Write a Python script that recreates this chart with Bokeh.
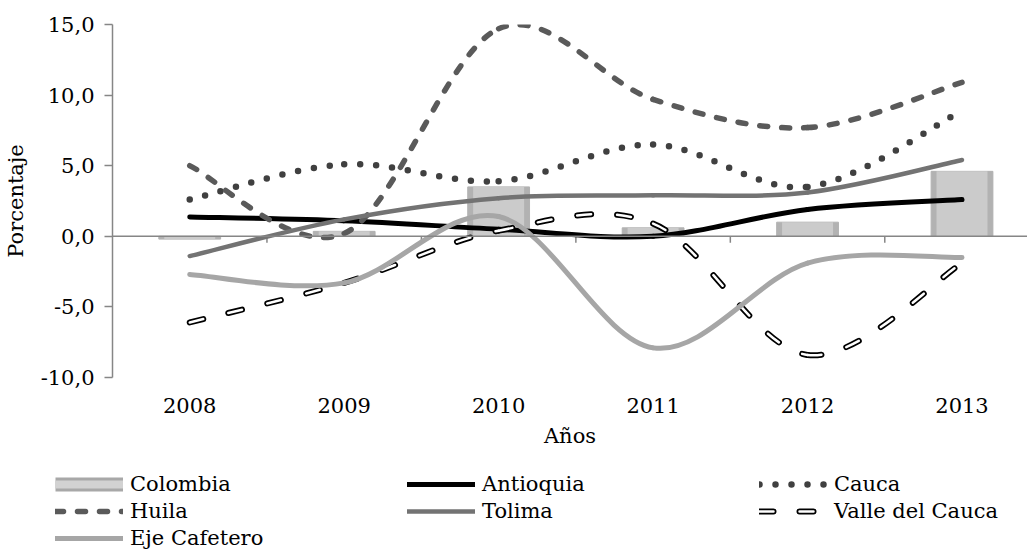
from bokeh.plotting import figure
from bokeh.models import (Range1d, FixedTicker, CustomJSTickFormatter, Span,
                          Legend, LegendItem, ColumnDataSource)
from bokeh.embed import file_html
from bokeh.resources import INLINE

years = ["2008", "2009", "2010", "2011", "2012", "2013"]
colombia = [-0.2, 0.35, 3.5, 0.6, 1.0, 4.6]
antioquia = [1.37, 1.1, 0.5, 0.0, 1.9, 2.6]
cauca = [2.6, 5.1, 3.9, 6.5, 3.5, 8.9]
huila = [5.0, 0.2, 14.7, 9.7, 7.7, 10.9]
tolima = [-1.4, 1.2, 2.7, 2.9, 3.1, 5.4]
valle = [-6.1, -3.3, 0.4, 0.9, -8.4, -1.9]
eje = [-2.7, -3.3, 1.4, -7.9, -1.9, -1.5]
labels = ["Colombia", "Antioquia", "Cauca", "Huila", "Tolima",
          "Valle del Cauca", "Eje Cafetero"]

FONT = "DejaVu Serif"
FS = "21px"
xs = list(range(len(years)))

# series styles (legend proxies use the same ones)
ST_ANT = dict(line_color="black", line_width=5, line_cap="round")
ST_CAU = dict(line_color="#404040", line_width=6.5, line_cap="round", line_dash="0 16")
ST_HUI = dict(line_color="#5a5a5a", line_width=5.5, line_cap="round", line_dash="8 14")
ST_TOL = dict(line_color="#737373", line_width=4.5, line_cap="round")
ST_VAL1 = dict(line_color="black", line_width=6, line_cap="round", line_dash="14 26")
ST_VAL2 = dict(line_color="white", line_width=2.5, line_cap="round", line_dash="14 26")
ST_EJE = dict(line_color="#a6a6a6", line_width=5, line_cap="round")


def smooth_source(ys):
    n = len(ys)
    d = dict(x0=[], y0=[], x1=[], y1=[], cx0=[], cy0=[], cx1=[], cy1=[])
    for i in range(n - 1):
        a = i - 1 if i > 0 else i
        b = i + 2 if i + 2 < n else i + 1
        d["x0"].append(xs[i]); d["y0"].append(ys[i])
        d["x1"].append(xs[i + 1]); d["y1"].append(ys[i + 1])
        d["cx0"].append(xs[i] + (xs[i + 1] - xs[a]) / 6.0)
        d["cy0"].append(ys[i] + (ys[i + 1] - ys[a]) / 6.0)
        d["cx1"].append(xs[i + 1] - (xs[b] - xs[i]) / 6.0)
        d["cy1"].append(ys[i + 1] - (ys[b] - ys[i]) / 6.0)
    return ColumnDataSource(d)


p = figure(width=1027, height=462, x_range=Range1d(-0.5, 5.424),
           y_range=Range1d(-10, 15), output_backend="svg",
           toolbar_location=None, min_border_left=107, min_border_right=0,
           min_border_top=24, min_border_bottom=85)
p.outline_line_color = None
p.grid.visible = False

# axes
p.yaxis.ticker = FixedTicker(ticks=[-10, -5, 0, 5, 10, 15])
p.yaxis.formatter = CustomJSTickFormatter(code="return tick.toFixed(1).replace('.', ',')")
p.yaxis.axis_line_color = "#868686"
p.yaxis.axis_line_width = 1.5
p.yaxis.major_tick_line_color = "#868686"
p.yaxis.major_tick_line_width = 1.5
p.yaxis.major_tick_out = 8
p.yaxis.major_tick_in = 0
p.yaxis.minor_tick_line_color = None
p.yaxis.major_label_standoff = 10
p.yaxis.axis_label = "Porcentaje"
p.yaxis.axis_label_standoff = 10

p.xaxis.ticker = FixedTicker(ticks=xs)
p.xaxis.major_label_overrides = {i: y for i, y in zip(xs, years)}
p.xaxis.axis_line_color = None
p.xaxis.major_tick_line_color = None
p.xaxis.minor_tick_line_color = None
p.xaxis.major_tick_out = 0
p.xaxis.major_tick_in = 0
p.xaxis.major_label_standoff = 20
p.xaxis.axis_label = "Años"
p.xaxis.axis_label_standoff = 8

for ax in (p.xaxis[0], p.yaxis[0]):
    ax.major_label_text_font = FONT
    ax.major_label_text_font_size = FS
    ax.major_label_text_color = "black"
    ax.axis_label_text_font = FONT
    ax.axis_label_text_font_size = FS
    ax.axis_label_text_font_style = "normal"
    ax.axis_label_text_color = "black"

# bars (simple bevel: darker outer bar, lighter inner face)
p.vbar(x=xs, top=colombia, bottom=0, width=0.4, fill_color="#b2b2b2",
       line_color="#b2b2b2", line_width=1)
p.vbar(x=xs, top=colombia, bottom=0, width=0.33, fill_color="#cbcbcb",
       line_color=None)

# zero axis line and category tick marks
p.add_layout(Span(location=0, dimension="width", line_color="#868686", line_width=1.5))
bounds = [x + 0.5 for x in xs]
p.segment(x0=bounds, x1=bounds, y0=[0] * len(bounds), y1=[-0.45] * len(bounds),
          line_color="#868686", line_width=1.5)

bz = dict(x0="x0", y0="y0", x1="x1", y1="y1", cx0="cx0", cy0="cy0", cx1="cx1", cy1="cy1")
p.bezier(source=smooth_source(antioquia), **ST_ANT, **bz)
p.bezier(source=smooth_source(cauca), **ST_CAU, **bz)
p.bezier(source=smooth_source(huila), **ST_HUI, **bz)
p.bezier(source=smooth_source(tolima), **ST_TOL, **bz)
src_v = smooth_source(valle)
p.bezier(source=src_v, **ST_VAL1, **bz)
p.bezier(source=src_v, **ST_VAL2, **bz)
p.bezier(source=smooth_source(eje), **ST_EJE, **bz)

# legend figure: proxy renderers drawn from the same data but kept out of view
lf = figure(width=1027, height=88, x_range=Range1d(0, 1), y_range=Range1d(1000, 1001),
            output_backend="svg", toolbar_location=None, min_border=0,
            x_axis_location=None, y_axis_location=None)
lf.grid.visible = False
lf.outline_line_color = None
g_col = [lf.line(x=xs, y=colombia, line_color="#a8a8a8", line_width=14),
         lf.line(x=xs, y=colombia, line_color="#d2d2d2", line_width=8)]
g_ant = [lf.line(x=xs, y=antioquia, **ST_ANT)]
g_cau = [lf.line(x=xs, y=cauca, **ST_CAU)]
g_hui = [lf.line(x=xs, y=huila, **ST_HUI)]
g_tol = [lf.line(x=xs, y=tolima, **ST_TOL)]
g_val = [lf.line(x=xs, y=valle, **ST_VAL1), lf.line(x=xs, y=valle, **ST_VAL2)]
g_eje = [lf.line(x=xs, y=eje, **ST_EJE)]
groups = [g_col, g_ant, g_cau, g_hui, g_tol, g_val, g_eje]

legend = Legend(items=[LegendItem(label=l, renderers=g) for l, g in zip(labels, groups)],
                orientation="horizontal", ncols=3, location=(55, 0))
legend.label_text_font = FONT
legend.label_text_font_size = FS
legend.label_text_font_style = "normal"
legend.label_text_color = "black"
legend.glyph_width = 68
legend.glyph_height = 24
legend.label_standoff = 7
legend.label_width = 274
legend.label_height = 24
legend.spacing = 3
legend.padding = 0
legend.margin = 0
legend.border_line_color = None
legend.background_fill_alpha = 0
lf.add_layout(legend, "center")

open("out.html", "w").write(file_html([p, lf], INLINE))
